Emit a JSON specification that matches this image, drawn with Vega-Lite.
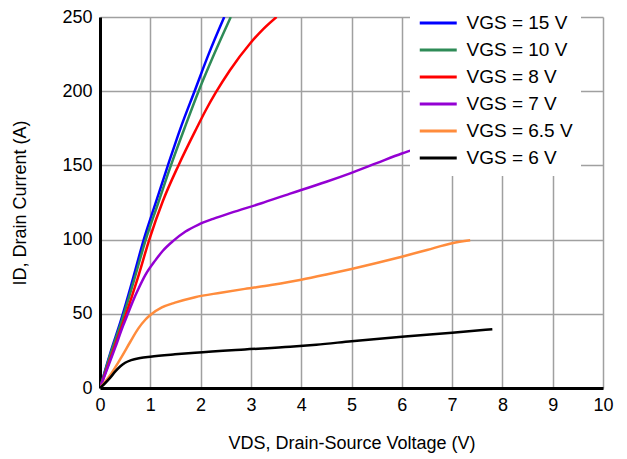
{
  "$schema": "https://vega.github.io/schema/vega-lite/v6.json",
  "width": 503,
  "height": 371,
  "autosize": {"type": "none"},
  "padding": {"left": 100, "top": 17, "right": 24, "bottom": 71},
  "background": "white",
  "config": {
    "view": {"stroke": null},
    "font": "Liberation Sans"
  },
  "data": {
    "values": [
      {"vgs": "VGS = 15 V", "vds": 0, "id": 0},
      {"vgs": "VGS = 15 V", "vds": 0.2, "id": 23},
      {"vgs": "VGS = 15 V", "vds": 0.42, "id": 46},
      {"vgs": "VGS = 15 V", "vds": 0.65, "id": 73},
      {"vgs": "VGS = 15 V", "vds": 0.87, "id": 100},
      {"vgs": "VGS = 15 V", "vds": 1.1, "id": 124},
      {"vgs": "VGS = 15 V", "vds": 1.35, "id": 150},
      {"vgs": "VGS = 15 V", "vds": 1.6, "id": 175},
      {"vgs": "VGS = 15 V", "vds": 1.88, "id": 200},
      {"vgs": "VGS = 15 V", "vds": 2.16, "id": 225},
      {"vgs": "VGS = 15 V", "vds": 2.47, "id": 250},

      {"vgs": "VGS = 10 V", "vds": 0, "id": 0},
      {"vgs": "VGS = 10 V", "vds": 0.2, "id": 22},
      {"vgs": "VGS = 10 V", "vds": 0.44, "id": 46},
      {"vgs": "VGS = 10 V", "vds": 0.68, "id": 73},
      {"vgs": "VGS = 10 V", "vds": 0.91, "id": 100},
      {"vgs": "VGS = 10 V", "vds": 1.15, "id": 124},
      {"vgs": "VGS = 10 V", "vds": 1.41, "id": 150},
      {"vgs": "VGS = 10 V", "vds": 1.68, "id": 175},
      {"vgs": "VGS = 10 V", "vds": 1.96, "id": 200},
      {"vgs": "VGS = 10 V", "vds": 2.27, "id": 225},
      {"vgs": "VGS = 10 V", "vds": 2.6, "id": 250},

      {"vgs": "VGS = 8 V", "vds": 0, "id": 0},
      {"vgs": "VGS = 8 V", "vds": 0.25, "id": 24},
      {"vgs": "VGS = 8 V", "vds": 0.5, "id": 48},
      {"vgs": "VGS = 8 V", "vds": 0.75, "id": 74},
      {"vgs": "VGS = 8 V", "vds": 0.98, "id": 100},
      {"vgs": "VGS = 8 V", "vds": 1.25, "id": 126},
      {"vgs": "VGS = 8 V", "vds": 1.56, "id": 150},
      {"vgs": "VGS = 8 V", "vds": 1.92, "id": 175},
      {"vgs": "VGS = 8 V", "vds": 2.1, "id": 187},
      {"vgs": "VGS = 8 V", "vds": 2.3, "id": 199},
      {"vgs": "VGS = 8 V", "vds": 2.58, "id": 214},
      {"vgs": "VGS = 8 V", "vds": 2.98, "id": 232},
      {"vgs": "VGS = 8 V", "vds": 3.25, "id": 242},
      {"vgs": "VGS = 8 V", "vds": 3.51, "id": 250},

      {"vgs": "VGS = 7 V", "vds": 0, "id": 0},
      {"vgs": "VGS = 7 V", "vds": 0.3, "id": 27},
      {"vgs": "VGS = 7 V", "vds": 0.46, "id": 42},
      {"vgs": "VGS = 7 V", "vds": 0.56, "id": 50.5},
      {"vgs": "VGS = 7 V", "vds": 0.66, "id": 59},
      {"vgs": "VGS = 7 V", "vds": 0.76, "id": 66.5},
      {"vgs": "VGS = 7 V", "vds": 0.9, "id": 76},
      {"vgs": "VGS = 7 V", "vds": 1.1, "id": 86},
      {"vgs": "VGS = 7 V", "vds": 1.25, "id": 92.5},
      {"vgs": "VGS = 7 V", "vds": 1.45, "id": 99},
      {"vgs": "VGS = 7 V", "vds": 1.7, "id": 105.5},
      {"vgs": "VGS = 7 V", "vds": 1.95, "id": 110},
      {"vgs": "VGS = 7 V", "vds": 2.25, "id": 114},
      {"vgs": "VGS = 7 V", "vds": 2.6, "id": 118},
      {"vgs": "VGS = 7 V", "vds": 3.21, "id": 124.5},
      {"vgs": "VGS = 7 V", "vds": 3.78, "id": 131},
      {"vgs": "VGS = 7 V", "vds": 4, "id": 133.4},
      {"vgs": "VGS = 7 V", "vds": 4.5, "id": 139},
      {"vgs": "VGS = 7 V", "vds": 5, "id": 145},
      {"vgs": "VGS = 7 V", "vds": 5.5, "id": 151.5},
      {"vgs": "VGS = 7 V", "vds": 6, "id": 158},
      {"vgs": "VGS = 7 V", "vds": 6.5, "id": 163.5},
      {"vgs": "VGS = 7 V", "vds": 7, "id": 169.3},
      {"vgs": "VGS = 7 V", "vds": 7.29, "id": 173.4},

      {"vgs": "VGS = 6.5 V", "vds": 0, "id": 0},
      {"vgs": "VGS = 6.5 V", "vds": 0.23, "id": 10},
      {"vgs": "VGS = 6.5 V", "vds": 0.43, "id": 21},
      {"vgs": "VGS = 6.5 V", "vds": 0.6, "id": 31},
      {"vgs": "VGS = 6.5 V", "vds": 0.76, "id": 40},
      {"vgs": "VGS = 6.5 V", "vds": 0.9, "id": 46},
      {"vgs": "VGS = 6.5 V", "vds": 1.0, "id": 49.2},
      {"vgs": "VGS = 6.5 V", "vds": 1.23, "id": 54.3},
      {"vgs": "VGS = 6.5 V", "vds": 1.49, "id": 57.5},
      {"vgs": "VGS = 6.5 V", "vds": 1.89, "id": 61.2},
      {"vgs": "VGS = 6.5 V", "vds": 2.4, "id": 64.2},
      {"vgs": "VGS = 6.5 V", "vds": 2.88, "id": 66.8},
      {"vgs": "VGS = 6.5 V", "vds": 3.4, "id": 69.4},
      {"vgs": "VGS = 6.5 V", "vds": 3.78, "id": 71.6},
      {"vgs": "VGS = 6.5 V", "vds": 4, "id": 73},
      {"vgs": "VGS = 6.5 V", "vds": 4.5, "id": 76.5},
      {"vgs": "VGS = 6.5 V", "vds": 5, "id": 80.2},
      {"vgs": "VGS = 6.5 V", "vds": 5.5, "id": 84.2},
      {"vgs": "VGS = 6.5 V", "vds": 6, "id": 88.5},
      {"vgs": "VGS = 6.5 V", "vds": 6.5, "id": 93},
      {"vgs": "VGS = 6.5 V", "vds": 7, "id": 97.5},
      {"vgs": "VGS = 6.5 V", "vds": 7.36, "id": 99.5},

      {"vgs": "VGS = 6 V", "vds": 0, "id": 0},
      {"vgs": "VGS = 6 V", "vds": 0.1, "id": 3.2},
      {"vgs": "VGS = 6 V", "vds": 0.2, "id": 6.8},
      {"vgs": "VGS = 6 V", "vds": 0.3, "id": 11},
      {"vgs": "VGS = 6 V", "vds": 0.4, "id": 14.5},
      {"vgs": "VGS = 6 V", "vds": 0.5, "id": 17},
      {"vgs": "VGS = 6 V", "vds": 0.62, "id": 18.8},
      {"vgs": "VGS = 6 V", "vds": 0.8, "id": 20.2},
      {"vgs": "VGS = 6 V", "vds": 1, "id": 21.1},
      {"vgs": "VGS = 6 V", "vds": 1.49, "id": 22.7},
      {"vgs": "VGS = 6 V", "vds": 1.89, "id": 23.8},
      {"vgs": "VGS = 6 V", "vds": 2.88, "id": 26},
      {"vgs": "VGS = 6 V", "vds": 3.78, "id": 27.8},
      {"vgs": "VGS = 6 V", "vds": 4.3, "id": 29.2},
      {"vgs": "VGS = 6 V", "vds": 5, "id": 31.5},
      {"vgs": "VGS = 6 V", "vds": 6, "id": 34.6},
      {"vgs": "VGS = 6 V", "vds": 7, "id": 37.3},
      {"vgs": "VGS = 6 V", "vds": 7.8, "id": 39.6}
    ]
  },
  "mark": {"type": "line", "strokeWidth": 2.5, "clip": true, "interpolate": "monotone"},
  "encoding": {
    "x": {
      "field": "vds",
      "type": "quantitative",
      "scale": {"domain": [0, 10], "nice": false},
      "axis": {
        "title": "VDS, Drain-Source Voltage (V)",
        "values": [0, 1, 2, 3, 4, 5, 6, 7, 8, 9, 10],
        "grid": true,
        "gridColor": "#a0a0a0",
        "gridWidth": 1.5,
        "gridOpacity": 1,
        "domainColor": "black",
        "domainWidth": 3,
        "ticks": false,
        "labelFlush": false,
        "labelFontSize": 18,
        "labelColor": "black",
        "labelPadding": 8,
        "titleFontSize": 18,
        "titleFontWeight": "normal",
        "titleColor": "black",
        "titlePadding": 20
      }
    },
    "y": {
      "field": "id",
      "type": "quantitative",
      "scale": {"domain": [0, 250], "nice": false},
      "axis": {
        "title": "ID, Drain Current (A)",
        "values": [0, 50, 100, 150, 200, 250],
        "grid": true,
        "gridColor": "#a0a0a0",
        "gridWidth": 1.5,
        "gridOpacity": 1,
        "domainColor": "black",
        "domainWidth": 3,
        "ticks": false,
        "labelFlush": false,
        "labelFontSize": 18,
        "labelColor": "black",
        "labelPadding": 8,
        "titleFontSize": 18,
        "titleFontWeight": "normal",
        "titleColor": "black",
        "titlePadding": 32
      }
    },
    "color": {
      "field": "vgs",
      "type": "nominal",
      "scale": {
        "domain": ["VGS = 15 V", "VGS = 10 V", "VGS = 8 V", "VGS = 7 V", "VGS = 6.5 V", "VGS = 6 V"],
        "range": ["#0000ff", "#2e8b57", "#ff0000", "#9400d3", "#ff8c3c", "#000000"]
      },
      "legend": {
        "title": null,
        "orient": "none",
        "legendX": 310,
        "legendY": -13,
        "padding": 8,
        "fillColor": "white",
        "symbolType": "M-1,0H3",
        "symbolSize": 342,
        "symbolStrokeWidth": 3,
        "labelFontSize": 19,
        "labelColor": "black",
        "labelOffset": 26.5,
        "rowPadding": 6,
        "labelLimit": 200
      }
    }
  }
}
